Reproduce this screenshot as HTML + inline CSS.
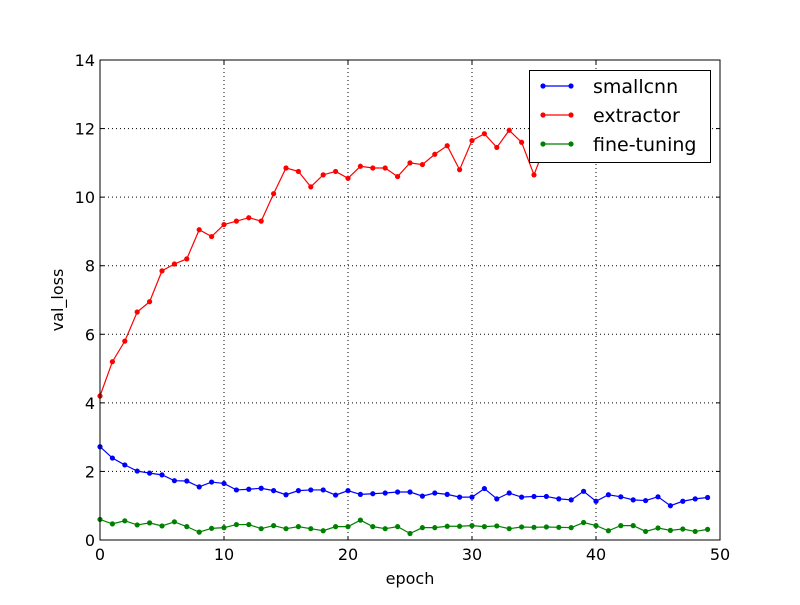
<!DOCTYPE html>
<html><head><meta charset="utf-8"><style>
body{margin:0;background:#fff;}
svg{font-family:"DejaVu Sans","Liberation Sans",sans-serif;}
</style></head><body>
<svg id="chart" width="800" height="600" viewBox="0 0 800 600">
<rect width="800" height="600" fill="#fff"/>
<g id="grid"></g>
<g id="series"></g>
<rect x="100" y="60" width="620" height="480" fill="none" stroke="#000" stroke-width="1"/>
<g id="ticks"></g>
<text x="410" y="584" text-anchor="middle" font-size="16">epoch</text>
<text x="63" y="300" text-anchor="middle" font-size="16" transform="rotate(-90 63 300)">val_loss</text>
<g id="legend">
<rect x="529.5" y="70.5" width="181" height="92" fill="#fff" stroke="#000" stroke-width="1"/>
</g>
</svg>
<script>
const epochs = Array.from({length:50},(_,i)=>i);
const smallcnn = [2.72,2.39,2.19,2.01,1.95,1.9,1.73,1.72,1.55,1.69,1.65,1.46,1.48,1.51,1.44,1.32,1.44,1.46,1.46,1.31,1.44,1.33,1.35,1.37,1.4,1.4,1.28,1.37,1.33,1.25,1.25,1.5,1.2,1.37,1.25,1.27,1.27,1.2,1.17,1.42,1.13,1.32,1.26,1.17,1.15,1.26,1.0,1.13,1.2,1.24];
const extractor = [4.2,5.2,5.8,6.65,6.95,7.85,8.05,8.2,9.05,8.85,9.2,9.3,9.4,9.3,10.1,10.85,10.75,10.3,10.65,10.75,10.55,10.9,10.85,10.85,10.6,11.0,10.95,11.25,11.5,10.8,11.65,11.85,11.45,11.95,11.6,10.65,11.6,11.8,12.0,11.7,12.1,11.9,12.2,12.0,12.3,12.1,12.4,12.2,12.5,12.3];
const fineTuning = [0.6,0.47,0.56,0.44,0.5,0.41,0.53,0.39,0.23,0.34,0.36,0.45,0.45,0.33,0.42,0.33,0.39,0.33,0.27,0.39,0.39,0.58,0.39,0.33,0.39,0.19,0.36,0.36,0.4,0.4,0.42,0.39,0.41,0.33,0.38,0.37,0.38,0.37,0.36,0.51,0.42,0.27,0.42,0.42,0.25,0.35,0.28,0.32,0.25,0.31];
const xTicks = [0,10,20,30,40,50];
const yTicks = [0,2,4,6,8,10,12,14];
const seriesNames = ["smallcnn","extractor","fine-tuning"];
const seriesColors = ["#0000ff","#ff0000","#008000"];

const NS="http://www.w3.org/2000/svg";
const X0=100,X1=720,Y0=540,Y1=60;
const sx=v=>X0+(v-0)/(50-0)*(X1-X0);
const sy=v=>Y0-(v-0)/(14-0)*(Y0-Y1);
function mk(tag,attrs,parent){const e=document.createElementNS(NS,tag);for(const k in attrs)e.setAttribute(k,attrs[k]);parent.appendChild(e);return e;}
const grid=document.getElementById('grid'),ticks=document.getElementById('ticks'),series=document.getElementById('series'),legend=document.getElementById('legend');
xTicks.forEach(t=>{
  const x=sx(t);
  if(t>0&&t<50){const g=mk('line',{x1:x,x2:x,y1:Y1,y2:Y0,stroke:'#000','stroke-dasharray':'1,3','stroke-width':1},grid);
  
  }
  mk('line',{x1:x,x2:x,y1:Y0,y2:Y0-4,stroke:'#000'},ticks);
  mk('line',{x1:x,x2:x,y1:Y1,y2:Y1+4,stroke:'#000'},ticks);
  const l=mk('text',{x:x,y:Y0+20,'text-anchor':'middle','font-size':16},ticks);
  l.textContent=t;
  
  
});
yTicks.forEach(t=>{
  const y=sy(t);
  if(t>0&&t<14){const g=mk('line',{x1:X0,x2:X1,y1:y,y2:y,stroke:'#000','stroke-dasharray':'1,3','stroke-width':1},grid);
  
  }
  mk('line',{x1:X0,x2:X0+4,y1:y,y2:y,stroke:'#000'},ticks);
  mk('line',{x1:X1,x2:X1-4,y1:y,y2:y,stroke:'#000'},ticks);
  const l=mk('text',{x:X0-5,y:y+6,'text-anchor':'end','font-size':16},ticks);
  l.textContent=t;
  
  
});
[smallcnn,extractor,fineTuning].forEach((vals,i)=>{
  const g=mk('g',{},series);
  
  
  mk('polyline',{points:vals.map((v,j)=>sx(epochs[j])+','+sy(v)).join(' '),fill:'none',stroke:seriesColors[i],'stroke-width':1.2},g);
  vals.forEach((v,j)=>{
    const c=mk('circle',{cx:sx(epochs[j]),cy:sy(v),r:2.6,fill:seriesColors[i]},g);
    
    
  });
  const ly=86+i*29;
  const le=mk('g',{},legend);
  
  
  mk('line',{x1:543,x2:571,y1:ly,y2:ly,stroke:seriesColors[i],'stroke-width':1.2},le);
  mk('circle',{cx:543,cy:ly,r:2.6,fill:seriesColors[i]},le);
  mk('circle',{cx:571,cy:ly,r:2.6,fill:seriesColors[i]},le);
  const t=mk('text',{x:593,y:ly+7,'font-size':19},le);
  t.textContent=seriesNames[i];
});
</script>
</body></html>
